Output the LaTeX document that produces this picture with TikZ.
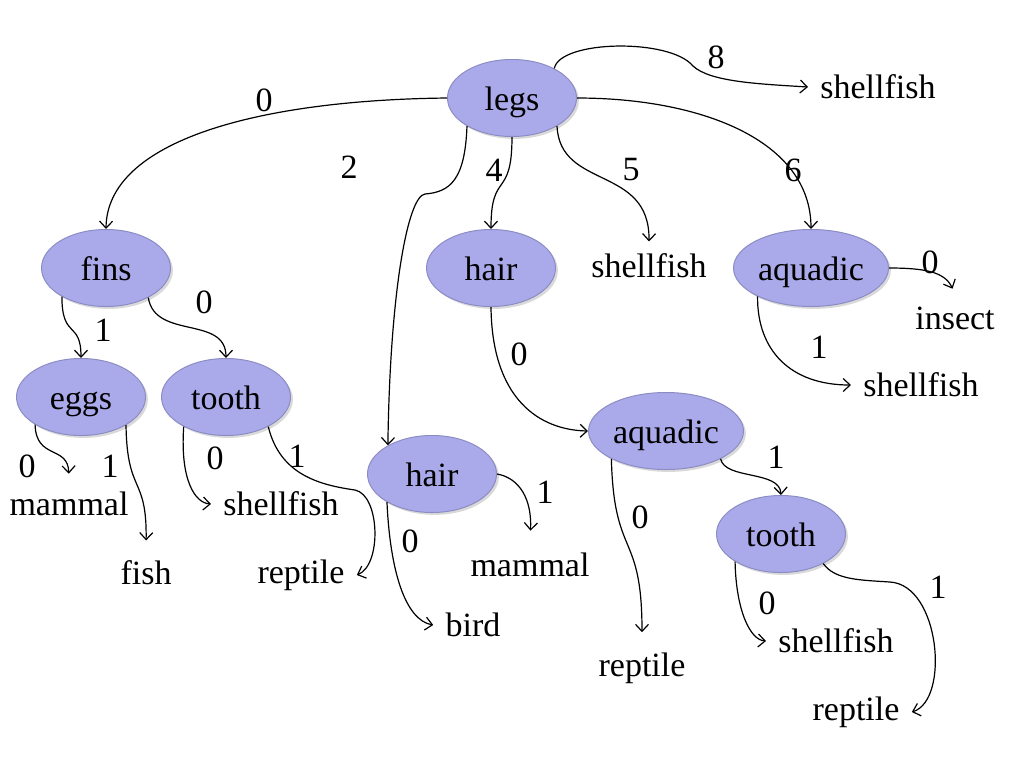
\documentclass[tikz,border=0pt]{standalone}
\usepackage{fontspec}
\setmainfont{Liberation Serif}
\usetikzlibrary{arrows.meta,shapes.geometric,shadows}
\definecolor{dtfill}{HTML}{AAAAEA}
\definecolor{dtline}{HTML}{8C8CC4}
\tikzset{
  test/.style={ellipse,draw=dtline,fill=dtfill,line width=.5pt,minimum width=64.5pt,minimum height=38.5pt,inner sep=0pt,
    text height=12pt,text depth=0pt,
    drop shadow={shadow xshift=1.2pt,shadow yshift=-1.2pt,opacity=.3}},
  testwide/.style={test,minimum width=77.5pt},
  leaf/.style={inner sep=6pt},
  bit/.style={inner sep=1pt},
  branch/.style={-{Straight Barb[length=3.5pt,width=6.5pt]},line width=.6pt},
}

\begin{document}
\begin{tikzpicture}[x=.5pt,y=-.5pt,font=\fontsize{17}{20}\selectfont]
  \useasboundingbox (0,0) rectangle (1024,768);

  % ---------------- tests ----------------
  \node[test] (legs) at (512,98) {legs};
  \node[test] (fins) at (106,268) {fins};
  \node[test] (hairT) at (491,268) {hair};
  \node[testwide] (aquaT) at (811,268) {aquadic};
  \node[test] (eggs) at (81,397) {eggs};
  \node[test] (toothL) at (226,397) {tooth};
  \node[test] (hairM) at (432,474) {hair};
  \node[testwide] (aquaM) at (666,431) {aquadic};
  \node[test] (toothR) at (781,534) {tooth};

  % ---------------- leaves ----------------
  \node[leaf] (legs8) at (878,87) {shellfish};
  \node[leaf] (legs5) at (649,266) {shellfish};
  \node[leaf] (aquaT0) at (955,318) {insect};
  \node[leaf] (aquaT1) at (921,385) {shellfish};
  \node[leaf] (eggs0) at (69,504) {mammal};
  \node[leaf] (eggs1) at (146,573) {fish};
  \node[leaf] (toothL0) at (281,504) {shellfish};
  \node[leaf] (toothL1) at (301,575) {reptile};
  \node[leaf] (hairM0) at (473,625) {bird};
  \node[leaf] (hairM1) at (530,565) {mammal};
  \node[leaf] (aquaM0) at (642,668) {reptile};
  \node[leaf] (toothR0) at (836,641) {shellfish};
  \node[leaf] (toothR1) at (856,712) {reptile};

  % ---------------- branches ----------------
  \draw[branch] (legs.35) .. controls (560,40) and (670,38) .. (693,66) .. controls (710,82) and (760,84) .. (legs8.west);
  \draw[branch] (legs.west) .. controls (260,100) and (107,140) .. (fins.north);
  \draw[branch] (legs.212) .. controls (465,180) and (450,192) .. (425,194) .. controls (408,196) and (390,290) .. (hairM.147);
  \draw[branch] (legs.south) .. controls (512,200) and (491,170) .. (hairT.north);
  \draw[branch] (legs.-32) .. controls (560,190) and (650,165) .. (legs5.north);
  \draw[branch] (legs.east) .. controls (700,98) and (811,140) .. (aquaT.north);

  \draw[branch,shorten >=3pt] (aquaT.east) .. controls (925,268) and (945,272) .. (aquaT0.north);
  \draw[branch] (aquaT.208) .. controls (757,350) and (790,385) .. (aquaT1.west);

  \draw[branch] (fins.213) .. controls (62,340) and (81,320) .. (eggs.north);
  \draw[branch] (fins.-35) .. controls (155,340) and (226,315) .. (toothL.north);

  \draw[branch,shorten >=3pt] (eggs.211) .. controls (36,460) and (68,445) .. (eggs0.north);
  \draw[branch,shorten >=4pt] (eggs.-32) .. controls (127,495) and (147,475) .. (eggs1.north);
  \draw[branch] (toothL.215) .. controls (180,480) and (195,503) .. (toothL0.west);
  \draw[branch] (toothL.-35) .. controls (280,475) and (320,485) .. (355,490) .. controls (380,495) and (382,565) .. (toothL1.east);

  \draw[branch] (hairT.south) .. controls (492,400) and (540,430) .. (aquaM.west);
  \draw[branch,shorten >=5pt] (hairM.east) .. controls (520,478) and (532,500) .. (hairM1.north);
  \draw[branch] (hairM.212) .. controls (390,570) and (405,620) .. (hairM0.west);

  \draw[branch] (aquaM.-27) .. controls (725,480) and (780,470) .. (toothR.north);
  \draw[branch,shorten >=4pt] (aquaM.207) .. controls (614,560) and (642,530) .. (aquaM0.north);
  \draw[branch] (toothR.211) .. controls (736,610) and (750,640) .. (toothR0.west);
  \draw[branch] (toothR.-35) .. controls (835,580) and (860,580) .. (890,582) .. controls (940,585) and (950,700) .. (toothR1.east);

  % ---------------- branch values ----------------
  \node[bit] (bLegs8) at (716,57) {8};
  \node[bit] (bLegs0) at (264,100) {0};
  \node[bit] (bLegs2) at (349,167) {2};
  \node[bit] (bLegs4) at (494,170) {4};
  \node[bit] (bLegs5) at (631,170) {5};
  \node[bit] (bLegs6) at (793,170) {6};
  \node[bit] (bAquaT0) at (930,262) {0};
  \node[bit] (bAquaT1) at (819,347) {1};
  \node[bit] (bFins0) at (204,302) {0};
  \node[bit] (bFins1) at (103,330) {1};
  \node[bit] (bHairT0) at (519,354) {0};
  \node[bit] (bEggs0) at (27,466) {0};
  \node[bit] (bEggs1) at (110,466) {1};
  \node[bit] (bToothL0) at (215,458) {0};
  \node[bit] (bToothL1) at (297,456) {1};
  \node[bit] (bHairM1) at (545,492) {1};
  \node[bit] (bHairM0) at (410,541) {0};
  \node[bit] (bAquaM1) at (776,457) {1};
  \node[bit] (bAquaM0) at (640,517) {0};
  \node[bit] (bToothR0) at (767,603) {0};
  \node[bit] (bToothR1) at (938,587) {1};
\end{tikzpicture}
\end{document}
